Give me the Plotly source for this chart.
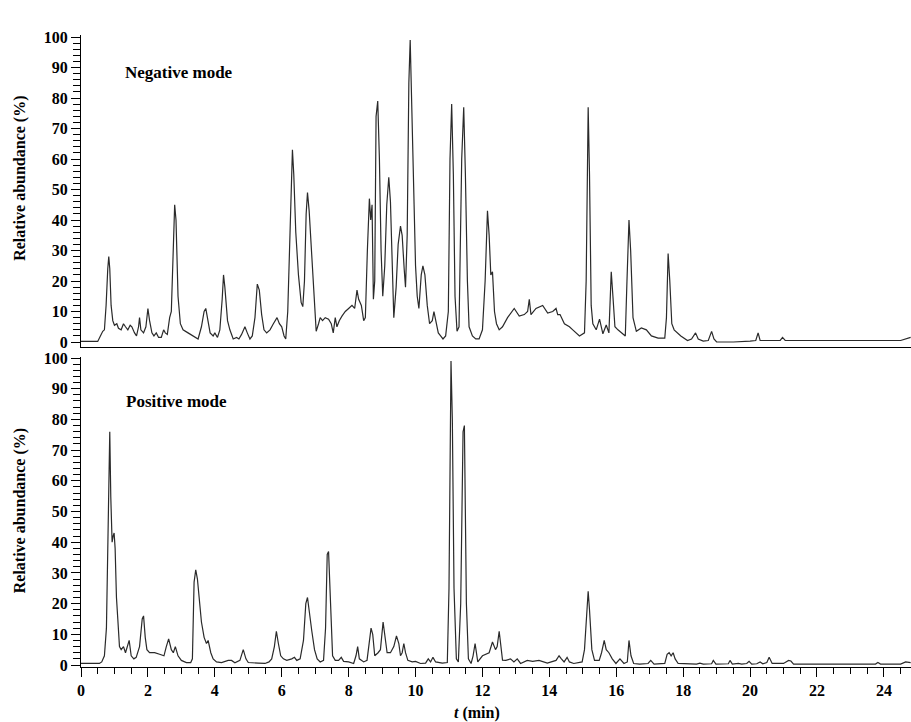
import plotly.graph_objects as go
from plotly.subplots import make_subplots

# ---------------- data ----------------
neg_t = [0.0, 0.5, 0.58, 0.65, 0.7, 0.75, 0.8, 0.83, 0.86, 0.9, 0.95, 1.0, 1.07, 1.12, 1.2, 1.27, 1.33, 1.4,
         1.47, 1.52, 1.6, 1.66, 1.72, 1.75, 1.79, 1.87, 1.94, 2.0, 2.05, 2.12, 2.18, 2.25, 2.32, 2.4, 2.47,
         2.52, 2.58, 2.65, 2.7, 2.75, 2.8, 2.84, 2.9, 2.97, 3.05, 3.2, 3.35, 3.5, 3.6, 3.68, 3.73, 3.78,
         3.86, 3.95, 4.0, 4.08, 4.15, 4.22, 4.26, 4.3, 4.38, 4.45, 4.55, 4.65, 4.72, 4.8, 4.9, 4.97, 5.05,
         5.12, 5.2, 5.27, 5.33, 5.4, 5.47, 5.55, 5.65, 5.75, 5.86, 5.93, 6.0, 6.07, 6.12, 6.18, 6.26, 6.32,
         6.36, 6.42, 6.5, 6.58, 6.63, 6.68, 6.73, 6.77, 6.82, 6.9, 6.98, 7.03, 7.1, 7.15, 7.22, 7.3, 7.4,
         7.48, 7.54, 7.6, 7.65, 7.72, 7.8, 7.9, 8.0, 8.1, 8.18, 8.25, 8.3, 8.38, 8.45, 8.5, 8.56, 8.62,
         8.66, 8.7, 8.74, 8.78, 8.82, 8.87, 8.92, 8.97, 9.02, 9.08, 9.14, 9.2, 9.25, 9.3, 9.35, 9.42, 9.48,
         9.55, 9.6, 9.66, 9.7, 9.75, 9.8, 9.84, 9.88, 9.94, 10.0, 10.05, 10.1, 10.17, 10.22, 10.28, 10.35,
         10.42, 10.5, 10.55, 10.6, 10.68, 10.75, 10.82, 10.9, 10.98, 11.03, 11.08, 11.13, 11.18, 11.24,
         11.3, 11.38, 11.44, 11.49, 11.55, 11.6, 11.7, 11.8, 11.9, 12.0, 12.08, 12.15, 12.2, 12.25, 12.3,
         12.36, 12.42, 12.5, 12.6, 12.75, 12.95, 13.1, 13.25, 13.35, 13.4, 13.45, 13.6, 13.8, 13.95,
         14.1, 14.2, 14.25, 14.32, 14.45, 14.6, 14.7, 14.9, 15.05, 15.1, 15.16, 15.2, 15.25, 15.3, 15.4,
         15.5, 15.6, 15.7, 15.78, 15.85, 15.9, 15.96, 16.05, 16.15, 16.27, 16.32, 16.38, 16.43, 16.5,
         16.6, 16.75, 16.9, 17.05, 17.25, 17.45, 17.5, 17.55, 17.6, 17.66, 17.73, 17.93, 18.13, 18.25,
         18.37, 18.45, 18.6, 18.75, 18.85, 18.92, 19.0, 19.5, 20.0, 20.17, 20.24, 20.3, 20.6, 20.9, 20.97,
         21.05, 24.5, 24.65, 24.8]
neg_y = [0.2, 0.2, 2, 3.5, 4, 12, 24, 28, 24, 12, 7, 5.5, 6, 4.5, 4, 6, 5, 4,
         5.5, 5, 3, 2, 5, 8, 4, 3, 5, 11, 7, 3, 2, 3, 1.5, 1.5, 4,
         3, 2.5, 8, 10, 25, 45, 40, 15, 6, 4, 3, 2, 1, 5, 10, 11, 8,
         3, 2, 3, 1.5, 4, 14, 22, 18, 7, 4, 1, 1.5, 1, 2.5, 5, 3, 1,
         2, 8, 19, 17, 9, 4, 3, 4, 6, 8, 6, 5, 2, 1, 10, 45, 63,
         55, 36, 22, 13, 11.6, 20, 42, 49, 43, 27, 10, 3.5, 6, 8, 7, 8, 7.5,
         6, 3, 8, 5, 7, 8.5, 10, 11, 12, 11, 17, 14, 12, 7, 8, 30, 47,
         40, 45, 14, 20, 74, 79, 60, 30, 15, 25, 45, 54, 46, 25, 8, 18, 32,
         38, 35, 24, 18, 35, 85, 99, 80, 45, 25, 15, 11, 22, 25, 22, 12,
         6, 7, 10, 7, 3, 2, 1, 2, 10, 60, 78, 55, 15, 3.5,
         5, 60, 77, 55, 20, 5, 2, 1, 1, 4, 20, 43, 35, 22, 23,
         10, 6, 4, 5, 8, 11, 8.5, 9, 10, 14, 9, 11, 12, 9.5,
         10, 11, 9, 9, 6, 5, 4, 2, 3, 20, 77, 55, 12, 6, 4,
         7.5, 2.7, 5.6, 3, 23, 15, 5, 4, 3, 2, 20, 40, 30, 8,
         3.5, 4.6, 4, 2, 1.3, 1.3, 8, 29, 20, 6, 4, 2, 0.5, 1,
         3, 1, 0.3, 0.5, 3.5, 1, 0, 0, 0.3, 0.5, 3, 0.5, 0.5, 0.5, 1.5,
         0.5, 0.5, 1, 1.5]

pos_t = [0.0, 0.55, 0.62, 0.7, 0.76, 0.8, 0.84, 0.86, 0.89, 0.93, 0.96, 0.99, 1.02, 1.06, 1.1, 1.15, 1.2,
         1.27, 1.33, 1.4, 1.44, 1.5, 1.58, 1.65, 1.75, 1.83, 1.87, 1.92, 1.97, 2.05, 2.2, 2.35, 2.48,
         2.55, 2.62, 2.7, 2.76, 2.82, 2.9, 3.0, 3.15, 3.28, 3.33, 3.38, 3.43, 3.48, 3.53, 3.6, 3.68, 3.75,
         3.8, 3.88, 3.95, 4.05, 4.2, 4.4, 4.5, 4.6, 4.75, 4.85, 4.93, 5.0, 5.3, 5.5, 5.62, 5.7, 5.78,
         5.84, 5.9, 5.97, 6.05, 6.15, 6.3, 6.38, 6.45, 6.55, 6.65, 6.72, 6.77, 6.82, 6.9, 6.98, 7.06,
         7.15, 7.25, 7.31, 7.36, 7.4, 7.45, 7.52, 7.6, 7.7, 7.78, 7.85, 8.0, 8.15, 8.22, 8.27, 8.32,
         8.45, 8.55, 8.63, 8.67, 8.72, 8.78, 8.88, 8.95, 9.03, 9.08, 9.15, 9.25, 9.35, 9.43, 9.5, 9.55,
         9.6, 9.65, 9.7, 9.77, 9.9, 10.0, 10.15, 10.3, 10.38, 10.45, 10.52, 10.6, 10.8, 10.95, 11.0,
         11.06, 11.1, 11.15, 11.22, 11.28, 11.35, 11.42, 11.46, 11.52, 11.58, 11.66, 11.72, 11.78,
         11.86, 12.0, 12.1, 12.2, 12.3, 12.39, 12.44, 12.5, 12.6, 12.7, 12.84, 12.94, 13.04, 13.14,
         13.34, 13.5, 13.69, 13.94, 14.2, 14.29, 14.36, 14.44, 14.53, 14.6, 14.73, 14.98, 15.05, 15.12,
         15.16, 15.2, 15.27, 15.35, 15.49, 15.56, 15.64, 15.7, 15.78, 15.88, 15.99, 16.11, 16.23, 16.33,
         16.38, 16.44, 16.52, 16.7, 16.95, 17.03, 17.13, 17.45, 17.52, 17.58, 17.64, 17.7, 17.76,
         17.85, 18.4, 18.5, 18.6, 18.85, 18.9, 18.98, 19.35, 19.4, 19.47, 19.65, 19.75, 19.9, 19.97,
         20.05, 20.2, 20.3, 20.38, 20.5, 20.57, 20.66, 20.9, 21.0, 21.15, 21.22, 21.3, 23.75, 23.82,
         23.9, 24.5, 24.65, 24.8]
pos_y = [0.5, 0.5, 1, 3, 12, 35, 65, 76, 55, 40, 42, 43, 38, 22, 15, 6, 5,
         6, 4, 7, 8, 3, 2, 2.5, 6, 15, 16, 9, 5, 4, 4, 3.5, 3,
         6, 8.5, 5, 4, 6, 3, 1.5, 0.8, 0.8, 2, 27, 31, 28, 21, 14, 9, 7,
         8, 4, 2, 1, 0.8, 1.5, 1.5, 0.7, 1.5, 5, 2, 0.8, 0.6, 0.5, 1, 2, 6,
         11, 7, 3, 2, 1.5, 2, 2.5, 1.5, 2, 8, 20, 22, 17, 11, 5, 2,
         1, 1.5, 12, 36, 37, 20, 3, 1.5, 1.5, 2.5, 1.2, 1, 0.5, 3, 6, 2,
         1, 1.5, 8, 12, 10, 3, 4, 5, 14, 10, 4, 4, 6, 9.5, 7, 3,
         4, 7, 4, 1.5, 1, 1.2, 0.5, 0.6, 2, 1, 2.5, 1, 0.6, 0.8, 25,
         99, 80, 25, 2, 1, 20, 76, 78, 20, 2, 0.5, 3, 7,
         1, 3, 3.5, 4, 7.5, 5, 6, 11, 1.6, 1.5, 2, 1, 2, 0.5,
         1.5, 1.2, 1.5, 0.6, 1.5, 3, 2, 1, 2.5, 1, 0.5, 1, 5, 20,
         24, 18, 5, 1.5, 1.5, 4, 8, 5, 4, 2, 0.5, 2, 0.5, 1,
         8, 3, 0.5, 0.3, 0.5, 1.5, 0.3, 0.5, 3.5, 4, 3, 4, 2,
         0.5, 0.3, 0.6, 0.3, 0.4, 1.5, 0.3, 0.4, 1.5, 0.3, 0.5, 0.3, 0.5, 1.2,
         0.3, 0.4, 1, 0.4, 0.8, 2.5, 0.5, 0.5, 0.5, 1.5, 1.3, 0.3, 0.3, 0.8,
         0.3, 0.3, 1, 0.8]

x_ticks = [0, 2, 4, 6, 8, 10, 12, 14, 16, 18, 20, 22, 24]
y_ticks = [0, 10, 20, 30, 40, 50, 60, 70, 80, 90, 100]
panel_labels = ["Negative mode", "Positive mode"]
y_title = "Relative abundance (%)"
x_title = "<i>t</i> (min)"

# ---------------- figure ----------------
FONT = "Liberation Serif"
LINE = "#2a2a2a"

fig = make_subplots(rows=2, cols=1, shared_xaxes=False, vertical_spacing=0.0)

fig.add_trace(go.Scatter(x=neg_t, y=neg_y, mode="lines",
                         line=dict(color=LINE, width=1.2), showlegend=False), row=1, col=1)
fig.add_trace(go.Scatter(x=pos_t, y=pos_y, mode="lines",
                         line=dict(color=LINE, width=1.2), showlegend=False), row=2, col=1)

tickfont = dict(family=FONT, size=16, color="black", weight="bold")

fig.update_layout(
    width=911, height=722,
    margin=dict(l=81, r=0, t=35, b=55),
    paper_bgcolor="white", plot_bgcolor="white",
    font=dict(family=FONT, color="black"),
    xaxis=dict(domain=[0, 1], range=[0, 24.81], showline=True, linecolor="black", linewidth=1.2,
               ticks="", showticklabels=False, showgrid=False, zeroline=False),
    xaxis2=dict(domain=[0, 1], range=[0, 24.81], showline=True, linecolor="black", linewidth=1.2,
                tickmode="array", tickvals=x_ticks, ticktext=[str(v) for v in x_ticks],
                ticks="outside", ticklen=9, tickwidth=1.2, tickcolor="black",
                minor=dict(dtick=0.5, tick0=0, ticks="outside", ticklen=6, tickwidth=1, tickcolor="black"),
                tickfont=tickfont, showgrid=False, zeroline=False, anchor="y2"),
    yaxis=dict(domain=[0.5063, 1.0], range=[-1.64, 100.66], showline=True, linecolor="black",
               linewidth=1.2, tickmode="array", tickvals=y_ticks, ticks="outside", ticklen=9,
               tickwidth=1.2, tickcolor="black",
               minor=dict(dtick=2, tick0=0, ticks="outside", ticklen=7, tickwidth=1, tickcolor="black"),
               tickfont=tickfont, showgrid=False, zeroline=False, anchor="x"),
    yaxis2=dict(domain=[0.0, 0.4905], range=[-0.65, 100.33], showline=True, linecolor="black",
                linewidth=1.2, tickmode="array", tickvals=y_ticks, ticks="outside", ticklen=9,
                tickwidth=1.2, tickcolor="black",
                minor=dict(dtick=2, tick0=0, ticks="outside", ticklen=7, tickwidth=1, tickcolor="black"),
                tickfont=tickfont, showgrid=False, zeroline=False, anchor="x2"),
)

title_font = dict(family=FONT, size=16, color="black", weight="bold")
fig.add_annotation(text=y_title, xref="paper", yref="paper", x=-0.0735, y=0.774,
                   textangle=-90, showarrow=False, font=title_font, xanchor="center", yanchor="middle")
fig.add_annotation(text=y_title, xref="paper", yref="paper", x=-0.0735, y=0.248,
                   textangle=-90, showarrow=False, font=title_font, xanchor="center", yanchor="middle")
fig.add_annotation(text=x_title, xref="paper", yref="paper", x=0.477, y=-0.0728,
                   showarrow=False, font=title_font, xanchor="center", yanchor="middle")

label_font = dict(family=FONT, size=17, color="black", weight="bold")
fig.add_annotation(text=panel_labels[0], xref="x", yref="y", x=1.26, y=88.5, showarrow=False,
                   font=label_font, xanchor="left", yanchor="middle")
fig.add_annotation(text=panel_labels[1], xref="x2", yref="y2", x=1.29, y=85.7, showarrow=False,
                   font=label_font, xanchor="left", yanchor="middle")

fig.write_html("out.html")
